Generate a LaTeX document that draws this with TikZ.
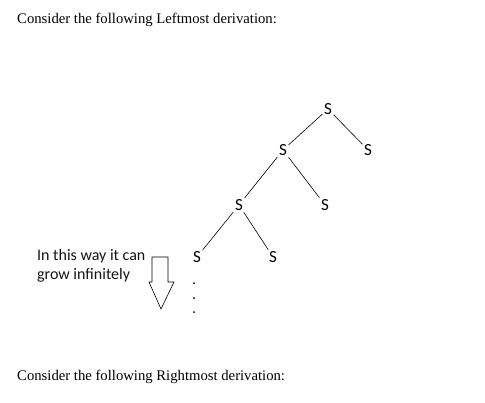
\documentclass[tikz,border=0pt]{standalone}
\usepackage{fontspec}
\setmainfont{Liberation Serif}
\newfontfamily\calibrifont{Carlito}
\usepackage{xcolor}
\usepackage{tikz}
\usetikzlibrary{positioning}
\definecolor{inkline}{RGB}{0, 0, 0}
\definecolor{notetext}{RGB}{20, 20, 20}
\tikzset{
  captiontext/.style={
    anchor=base west, inner sep=0pt,
    font=\fontsize{14.7}{17}\selectfont
  },
  symnode/.style={
    inner sep=1.5pt,
    font=\calibrifont\fontsize{17}{20}\selectfont
  },
  notetextblock/.style={
    anchor=north west, inner sep=0pt, align=left, text=notetext,
    font=\calibrifont\fontsize{16}{19.5}\selectfont
  },
  treeline/.style={draw=inkline, line width=0.6pt},
  growarrow/.style={draw=inkline, fill=white, line width=0.6pt},
  growdot/.style={fill=inkline}
}

\begin{document}
\begin{tikzpicture}[x=1pt, y=-1pt, on grid]
  \useasboundingbox (0,0) rectangle (485,402);

  % Captions
  \node[captiontext] (leftcap) at (17,23) {Consider the following Leftmost derivation:};
  \node[captiontext] (rightcap) at (17,380) {Consider the following Rightmost derivation:};

  % Derivation tree
  \node[symnode] (root) at (328,109) {S};
  \node[symnode, below left=41pt and 45pt of root] (sa) {S};
  \node[symnode, below right=41pt and 40pt of root] (sar) {S};
  \node[symnode, below left=55pt and 44pt of sa] (sb) {S};
  \node[symnode, below right=55pt and 42pt of sa] (sbr) {S};
  \node[symnode, below left=52pt and 42pt of sb] (sc) {S};
  \node[symnode, below right=52pt and 34pt of sb] (scr) {S};

  \draw[treeline] (root) -- (sa);
  \draw[treeline] (root) -- (sar);
  \draw[treeline] (sa) -- (sb);
  \draw[treeline] (sa) -- (sbr);
  \draw[treeline] (sb) -- (sc);
  \draw[treeline] (sb) -- (scr);

  % Continuation dots
  \fill[growdot] (194,283) circle (1pt);
  \fill[growdot] (194,298) circle (1pt);
  \fill[growdot] (194,312) circle (1pt);

  % Note and arrow
  \node[notetextblock] (note) at (37,249) {In this way it can\\grow infinitely};
  \draw[growarrow] (152,257) -- (168,257) -- (168,282) -- (174,282)
    -- (161,309) -- (149,282) -- (152,282) -- cycle;

\end{tikzpicture}
\end{document}
